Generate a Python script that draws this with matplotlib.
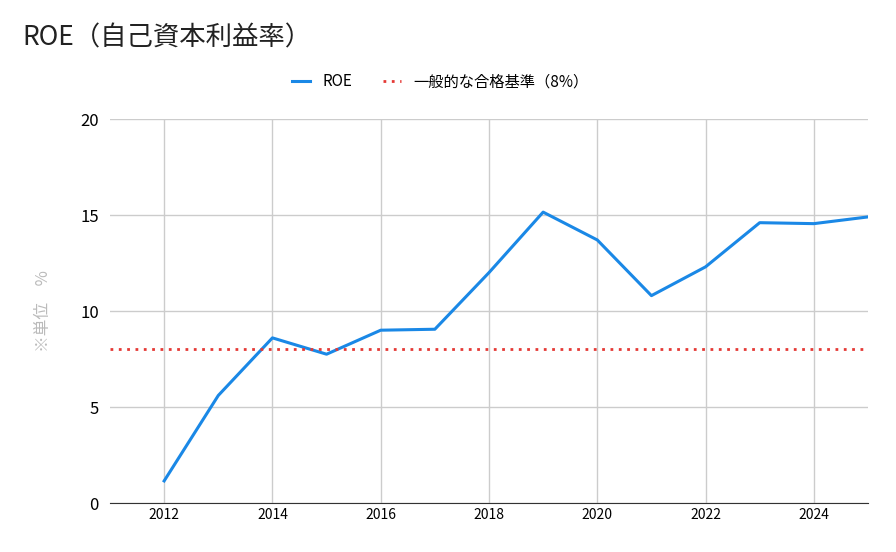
import matplotlib
matplotlib.use("Agg")
import matplotlib.pyplot as plt

plt.rcParams["font.family"] = ["Noto Sans CJK JP"]

years = [2012, 2013, 2014, 2015, 2016, 2017, 2018, 2019, 2020, 2021, 2022, 2023, 2024, 2025]
roe = [1.15, 5.6, 8.6, 7.75, 9.0, 9.05, 12.0, 15.15, 13.7, 10.8, 12.3, 14.6, 14.55, 14.9]
benchmark = 8
xticks = [2012, 2014, 2016, 2018, 2020, 2022, 2024]
yticks = [0, 5, 10, 15, 20]

fig = plt.figure(figsize=(8.96, 5.52), dpi=100)
ax = fig.add_axes([110/896, 1-503/552, (868-110)/896, (503-119)/552])
ax.plot(years, roe, color="#1a88e6", lw=2.2, label="ROE")
ax.axhline(benchmark, color="#e53935", lw=2, ls=(0, (1, 2)), label="一般的な合格基準（8%）")
ax.set_xlim(2011, 2025)
ax.set_ylim(0, 20)
ax.set_xticks(xticks)
ax.set_yticks(yticks)
ax.grid(True, color="#cccccc", lw=1)
ax.set_axisbelow(True)
for s in ["top", "right", "left"]:
    ax.spines[s].set_visible(False)
ax.spines["bottom"].set_color("#333333")
ax.tick_params(length=0, labelsize=10)
ax.tick_params(axis="y", labelsize=12, pad=8)
ax.set_ylabel("※単位　%", color="#bbbbbb", fontsize=12, labelpad=20)
fig.text(22/896, 1-38/552, "ROE（自己資本利益率）", fontsize=19, va="center", color="#222222")
fig.legend(loc="center", bbox_to_anchor=(440/896, 1-82/552), ncol=2, frameon=False, fontsize=11,
           handlelength=1.2, columnspacing=2)
fig.savefig("out.png", dpi=100)
